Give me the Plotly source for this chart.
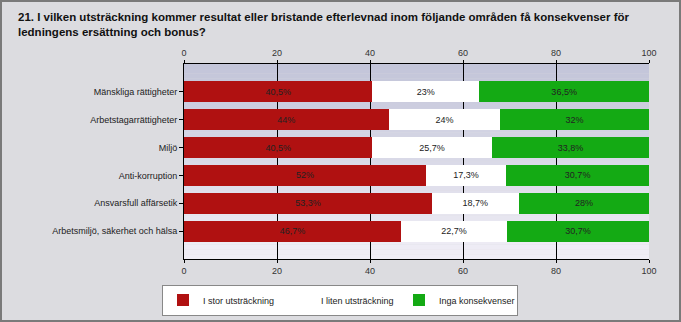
import plotly.graph_objects as go

categories = ["Mänskliga rättigheter", "Arbetstagarrättigheter", "Miljö", "Anti-korruption",
              "Ansvarsfull affärsetik", "Arbetsmiljö, säkerhet och hälsa"]
series_names = ["I stor utsträckning", "I liten utsträckning", "Inga konsekvenser"]
stor = [40.5, 44, 40.5, 52, 53.3, 46.7]
liten = [23, 24, 25.7, 17.3, 18.7, 22.7]
inga = [36.5, 32, 33.8, 30.7, 28, 30.7]
colors = ["#b01111", "#ffffff", "#14aa14"]
tick_vals = [0, 20, 40, 60, 80, 100]
title = ("21. I vilken utsträckning kommer resultat eller bristande efterlevnad inom följande områden få konsekvenser för"
         "<br>ledningens ersättning och bonus?")

FONT = "Liberation Sans"
W, H = 681, 322
L, R, T, B = 184, 32, 64, 63
PW, PH = W - L - R, H - T - B

def fmt(v):
    s = ("%g" % v).replace(".", ",")
    return s + "%"

def px_x(p):
    return (p - L) / PW

def px_y(p):
    return 1 - (p - T) / PH

fig = go.Figure()
for name, vals, col in zip(series_names, [stor, liten, inga], colors):
    fig.add_trace(go.Bar(
        y=list(range(len(categories))), x=vals, name=name, orientation="h",
        marker=dict(color=col, line=dict(width=0)),
        text=[fmt(v) for v in vals], textposition="inside", insidetextanchor="middle",
        textfont=dict(size=9, color="#222222", family=FONT),
        constraintext="none", width=0.75, hoverinfo="skip",
    ))

# gradient plot background
n = 40
c0 = (0xc3, 0xc5, 0xd9)
c1 = (0xf0, 0xee, 0xf6)
shapes = []
for i in range(n):
    t = i / (n - 1)
    c = tuple(int(round(a + (b - a) * t)) for a, b in zip(c0, c1))
    shapes.append(dict(type="rect", xref="x domain", yref="y domain", x0=0, x1=1,
                       y0=1 - (i + 1) / n, y1=1 - i / n, layer="below",
                       fillcolor="rgb(%d,%d,%d)" % c, line=dict(width=0)))
# outer frame
shapes.append(dict(type="rect", xref="paper", yref="paper", x0=px_x(1), x1=px_x(W - 1),
                   y0=px_y(H - 1), y1=px_y(1), line=dict(color="#7a7a7a", width=2),
                   layer="above"))

fig.update_layout(
    width=W, height=H,
    margin=dict(l=L, r=R, t=T, b=B, autoexpand=False),
    paper_bgcolor="#dcdce0", plot_bgcolor="#dcdce0",
    barmode="stack", bargap=0.25,
    font=dict(family=FONT, size=9, color="#222222"),
    showlegend=True,
    legend=dict(orientation="h", x=px_x(340), xanchor="center", y=px_y(300), yanchor="middle",
                bgcolor="#ffffff", bordercolor="#888888", borderwidth=1,
                font=dict(size=9, family=FONT, color="#222222"), itemwidth=30,
                entrywidth=73, entrywidthmode="pixels",
                traceorder="normal"),
    shapes=shapes,
    annotations=[dict(text=title, xref="paper", yref="paper", x=px_x(16), y=px_y(9),
                      xanchor="left", yanchor="top", align="left", showarrow=False,
                      font=dict(family=FONT, size=11.5, color="#111111", weight="bold"))],
    xaxis=dict(range=[0, 100], tickvals=tick_vals, showgrid=True, gridcolor="#000000", gridwidth=1,
               showline=True, linecolor="#000000", linewidth=1, mirror=True,
               ticks="outside", ticklen=3, tickcolor="#000000", zeroline=False,
               tickfont=dict(size=9, color="#333333")),
    xaxis2=dict(range=[0, 100], tickvals=tick_vals, overlaying="x", side="top", showgrid=False,
                ticks="outside", ticklen=3, tickcolor="#000000", showline=False, zeroline=False,
                tickfont=dict(size=9, color="#333333")),
    yaxis=dict(range=[6, -1], tickvals=list(range(len(categories))), ticktext=categories,
               showgrid=False, zeroline=False, showline=True, linecolor="#000000",
               ticks="outside", ticklen=4, tickcolor="#000000",
               tickfont=dict(size=9, color="#222222")),
)
# dummy trace to show top axis
fig.add_trace(go.Scatter(x=[0, 100], y=[None, None], xaxis="x2", showlegend=False, hoverinfo="skip"))
fig.write_html("out.html")
